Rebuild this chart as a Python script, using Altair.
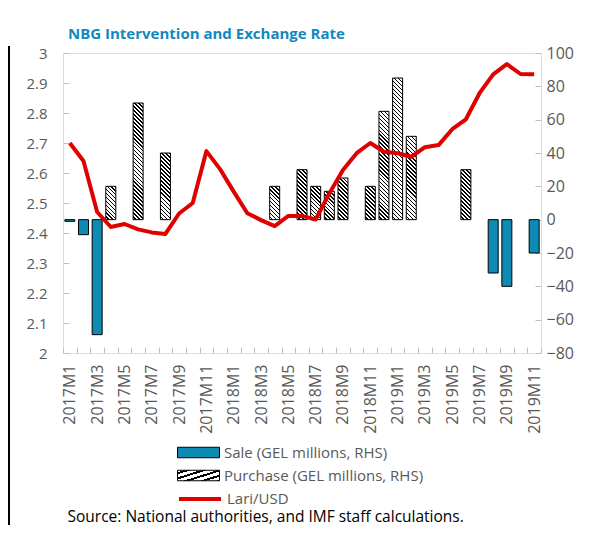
import altair as alt

months = [
    "2017M1", "2017M2", "2017M3", "2017M4", "2017M5", "2017M6", "2017M7", "2017M8", "2017M9", "2017M10", "2017M11", "2017M12",
    "2018M1", "2018M2", "2018M3", "2018M4", "2018M5", "2018M6", "2018M7", "2018M8", "2018M9", "2018M10", "2018M11", "2018M12",
    "2019M1", "2019M2", "2019M3", "2019M4", "2019M5", "2019M6", "2019M7", "2019M8", "2019M9", "2019M10", "2019M11",
]
labelled_months = [
    "2017M1", "2017M3", "2017M5", "2017M7", "2017M9", "2017M11",
    "2018M1", "2018M3", "2018M5", "2018M7", "2018M9", "2018M11",
    "2019M1", "2019M3", "2019M5", "2019M7", "2019M9", "2019M11",
]
sale = [-1, -9, -69, None, None, None, None, None, None, None, None, None,
        None, None, None, None, None, None, None, None, None, None, None, None,
        None, None, None, None, None, None, None, -32, -40, None, -20]
purchase = [None, None, None, 20, None, 70, None, 40, None, None, None, None,
            None, None, None, 20, None, 30, 20, 17, 25, None, 20, 65,
            85, 50, None, None, None, 30, None, None, None, None, None]
lari = [2.700, 2.640, 2.470, 2.420, 2.430, 2.412, 2.402, 2.397, 2.465, 2.500, 2.673, 2.613,
        2.538, 2.466, 2.443, 2.423, 2.457, 2.457, 2.445, 2.532, 2.610, 2.666, 2.700, 2.671,
        2.666, 2.654, 2.686, 2.693, 2.746, 2.779, 2.866, 2.929, 2.963, 2.930, 2.929]

SALE_LABEL = "Sale (GEL millions, RHS)"
PURCH_LABEL = "Purchase (GEL millions, RHS)"
LINE_LABEL = "Lari/USD"

W, H = 478, 300
RHS_DOMAIN = [-80, 100]
BAR_W = 10
TEAL = "#0e8bb3"
RED = "#e00000"
GREY = "#bfbfbf"
LABEL = "#595959"
FONT = "Open Sans"
TICK = 6


def hatch(w, h, period=4.0, dark=0.4):
    """Diagonal hatch fill (hard-stop linear gradient) for a box of w x h px."""
    L = w + h
    n = max(1, round(L / period))
    k = L / (w * w + h * h)
    stops = []
    for i in range(n):
        a = i / n
        b = (i + 1 - dark) / n
        c = (i + 1) / n
        stops += [
            {"offset": round(a, 5), "color": "white"},
            {"offset": round(b, 5), "color": "white"},
            {"offset": round(b, 5), "color": "black"},
            {"offset": round(c, 5), "color": "black"},
        ]
    return {"gradient": "linear", "x1": 0, "y1": 1,
            "x2": round(k * w, 5), "y2": round(1 - k * h, 5), "stops": stops}


px_per_unit = H / (RHS_DOMAIN[1] - RHS_DOMAIN[0])

sale_rows = [{"month": m, "value": v, "series": SALE_LABEL}
             for m, v in zip(months, sale) if v is not None]
line_rows = [{"month": m, "lari": v, "series": LINE_LABEL} for m, v in zip(months, lari)]

label_expr = "(" + " || ".join(f"datum.value == '{m}'" for m in labelled_months) + ") ? datum.label : ''"

x_enc = alt.X(
    "month:O",
    sort=months,
    scale=alt.Scale(domain=months, paddingInner=0, paddingOuter=0),
    axis=alt.Axis(
        title="Source: National authorities, and IMF staff calculations.",
        titleX=4, titleY=174, titleAlign="left", titleAnchor="start", titleBaseline="alphabetic",
        titleColor="black", titleFontWeight="normal", titleFont=FONT, titleFontSize=15.5,
        labelAngle=270, labelFont=FONT, labelFontSize=16, labelColor=LABEL,
        labelPadding=11, labelExpr=label_expr,
        tickBand="extent", tickSize=TICK, tickColor=GREY, domain=False,
        offset=-TICK, grid=False, labelOverlap=False,
    ),
)

rhs_axis = alt.Axis(
    orient="right", title=None, values=[-80, -60, -40, -20, 0, 20, 40, 60, 80, 100],
    labelFont=FONT, labelFontSize=16, labelColor=LABEL, labelPadding=5,
    tickSize=TICK, tickColor=GREY, domain=False, offset=-TICK, grid=False,
)
lhs_axis = alt.Axis(
    orient="left", title=None, values=[2.0, 2.1, 2.2, 2.3, 2.4, 2.5, 2.6, 2.7, 2.8, 2.9, 3.0],
    format=".1~f",
    labelFont=FONT, labelFontSize=15, labelColor=LABEL, labelPadding=16,
    tickSize=TICK, tickColor=GREY, domain=False, offset=-TICK, grid=False,
)
rhs_scale = alt.Scale(domain=RHS_DOMAIN, nice=False, zero=False)

rect_path = "M-1,-0.25L1,-0.25L1,0.25L-1,0.25Z"
legend_common = dict(
    orient="none", title=None, padding=0, labelFont=FONT, labelFontSize=15,
    labelColor=LABEL, labelOffset=4, labelLimit=400, symbolSize=1764,
)

purchase_stroke = alt.Stroke(
    "series:N",
    scale=alt.Scale(domain=[PURCH_LABEL], range=["black"]),
    legend=alt.Legend(legendX=114, legendY=401, symbolType=rect_path,
                      symbolFillColor="#e8e8e8", symbolStrokeWidth=1, **legend_common),
)

# one layer per purchase bar, so each bar gets a hatch sized to its own height
purchase_layers = []
for m, v in zip(months, purchase):
    if v is None:
        continue
    purchase_layers.append(
        alt.Chart(alt.Data(values=[{"month": m, "value": v, "series": PURCH_LABEL}]))
        .mark_bar(size=BAR_W, strokeWidth=1, fill=hatch(BAR_W, abs(v) * px_per_unit))
        .encode(
            x=x_enc,
            y=alt.Y("value:Q", scale=rhs_scale, axis=rhs_axis, stack=None),
            stroke=purchase_stroke,
        )
    )

sale_layer = alt.Chart(alt.Data(values=sale_rows)).mark_bar(size=BAR_W, stroke="black", strokeWidth=1).encode(
    x=x_enc,
    y=alt.Y("value:Q", scale=rhs_scale, axis=rhs_axis, stack=None),
    fill=alt.Fill(
        "series:N",
        scale=alt.Scale(domain=[SALE_LABEL], range=[TEAL]),
        legend=alt.Legend(legendX=114, legendY=378, symbolType=rect_path,
                          symbolStrokeColor="black", symbolStrokeWidth=1, **legend_common),
    ),
)

bars = alt.layer(*purchase_layers, sale_layer)

line_layer = alt.Chart(alt.Data(values=line_rows)).mark_line(strokeWidth=4, strokeJoin="round").encode(
    x=x_enc,
    y=alt.Y("lari:Q", scale=alt.Scale(domain=[2, 3], nice=False, zero=False), axis=lhs_axis),
    stroke=alt.Stroke(
        "series:N",
        scale=alt.Scale(domain=[LINE_LABEL], range=[RED]),
        legend=alt.Legend(legendX=114, legendY=423, symbolType="stroke",
                          symbolStrokeWidth=4, **legend_common),
    ),
)

frame_left = alt.Chart(alt.Data(values=[{"f": 1}])).mark_rule(color="black", strokeWidth=2).encode(
    x=alt.value(-54), y=alt.value(-7), y2=alt.value(480)
)

chart = alt.layer(bars, line_layer, frame_left).resolve_scale(
    y="independent", stroke="independent"
).properties(
    width=W, height=H,
    title=alt.TitleParams(
        "NBG Intervention and Exchange Rate", anchor="start", frame="group", dx=5, offset=3,
        font=FONT, fontSize=15, fontWeight="bold", color="#1388be",
    ),
    autosize=alt.AutoSizeParams(type="none"),
    padding={"left": 55, "top": 45, "right": 45, "bottom": 172},
).configure_view(stroke=GREY, strokeWidth=1).configure(background="white")

chart.save("out.html", embed_options={"renderer": "svg", "actions": False})
